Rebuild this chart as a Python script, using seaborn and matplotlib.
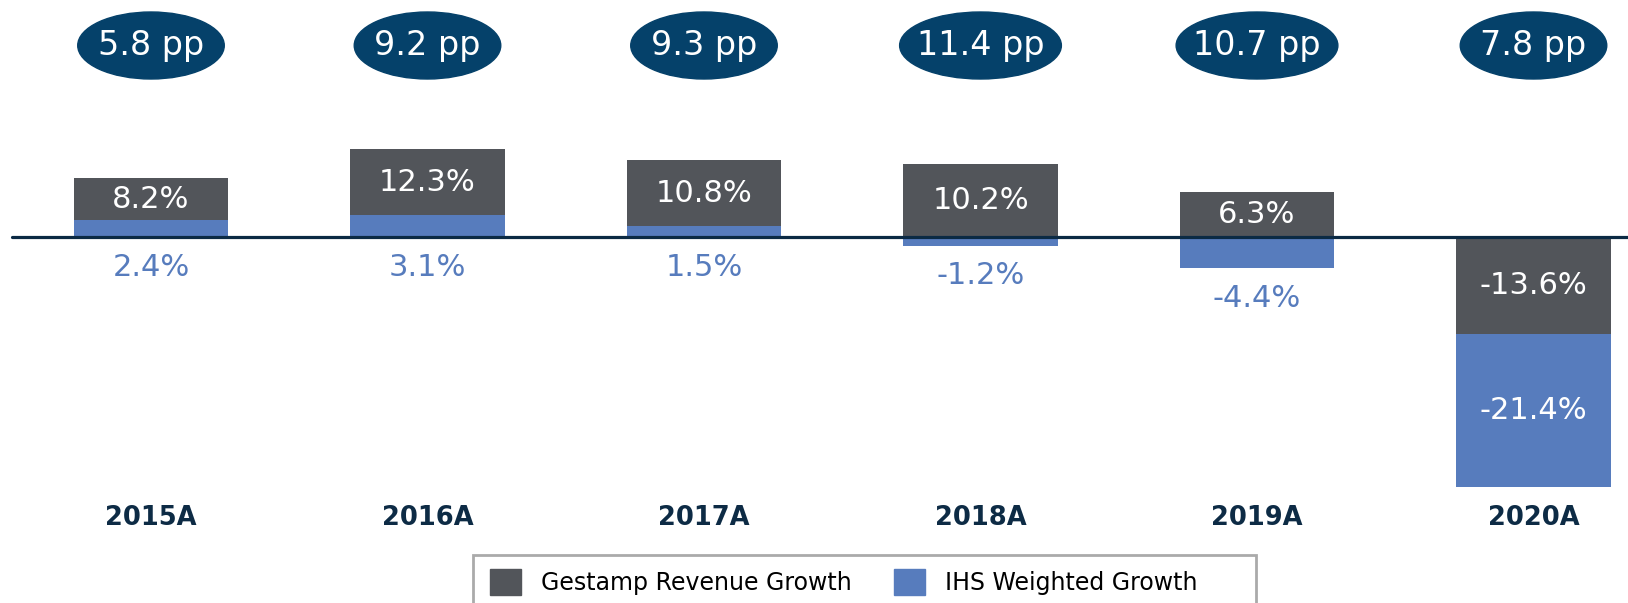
import matplotlib
matplotlib.use("Agg")
import matplotlib.pyplot as plt
from matplotlib.patches import Ellipse, Patch, Rectangle
import seaborn as sns
import pandas as pd

years = ["2015A", "2016A", "2017A", "2018A", "2019A", "2020A"]
gestamp = [8.2, 12.3, 10.8, 10.2, 6.3, -13.6]
ihs = [2.4, 3.1, 1.5, -1.2, -4.4, -21.4]
gap_labels = ["5.8 pp", "9.2 pp", "9.3 pp", "11.4 pp", "10.7 pp", "7.8 pp"]

GREY = "#52555a"
BLUE = "#577cbd"
NAVY = "#05416a"
DARK = "#0d2b45"

# when both are negative the IHS bar hangs below the Gestamp bar
stacked = [g < 0 and i < 0 for g, i in zip(gestamp, ihs)]
ihs_end = [g + i if s else i for g, i, s in zip(gestamp, ihs, stacked)]

df = pd.DataFrame({"year": years, "gestamp": gestamp, "ihs_end": ihs_end})

sns.set_style("white")
plt.rcParams["font.family"] = ["DejaVu Sans"]

W, H = 1628, 603
px = 7.14          # pixels per percentage point
axis_y = 237       # pixel row of the zero line
fig = plt.figure(figsize=(W / 100, H / 100), dpi=100)
ax = fig.add_axes([0, 0, 1, 1])

bw = 0.557
sns.barplot(data=df, x="year", y="gestamp", color=GREY, saturation=1, width=bw,
            errorbar=None, linewidth=0, ax=ax)
n0 = len(ax.patches)
sns.barplot(data=df, x="year", y="ihs_end", color=BLUE, saturation=1, width=bw,
            errorbar=None, linewidth=0, ax=ax)
for p in ax.patches[:n0]:
    p.set_zorder(2)
for p, s in zip(ax.patches[n0:], stacked):
    p.set_zorder(1 if s else 3)

ax.set_xlim(-151 / 276.5, (W - 151) / 276.5)
ax.set_ylim(-(H - axis_y) / px, axis_y / px)
ax.set_axis_off()

ax.axhline(0, xmin=12 / W, xmax=1, color="#0b2a44", lw=2.3, zorder=4)

for k, (g, i, s) in enumerate(zip(gestamp, ihs, stacked)):
    gy = (g + max(i, 0)) / 2 if g > 0 else g / 2
    ax.text(k, gy, f"{g:.1f}%", color="white", fontsize=22, ha="center",
            va="center", zorder=5)
    if s:
        ax.text(k, g + i / 2, f"{i:.1f}%", color="white", fontsize=22,
                ha="center", va="center", zorder=5)
    else:
        ax.text(k, min(i, 0) - 30 / px, f"{i:.1f}%", color=BLUE, fontsize=22,
                ha="center", va="center", zorder=5)

    lab = gap_labels[k]
    ew = 0.53 + 0.055 * (len(lab) - 6)
    ey = (axis_y - 45.5) / px
    ax.add_patch(Ellipse((k, ey), ew, 67 / px, color=NAVY, zorder=5))
    ax.text(k, ey, lab, color="white", fontsize=24, ha="center", va="center",
            zorder=6)

    ax.text(k, (axis_y - 518) / px, years[k], color=DARK, fontsize=18.5,
            fontweight="bold", ha="center", va="center")

handles = [Patch(color=GREY, label="Gestamp Revenue Growth"),
           Patch(color=BLUE, label="IHS Weighted Growth")]
fig.legend(handles=handles, loc="center left",
           bbox_to_anchor=(490 / W, 1 - 582 / H), ncol=2, fontsize=17,
           labelcolor="black", frameon=False, borderaxespad=0, borderpad=0,
           handlelength=1.3, handleheight=1.3, handletextpad=0.85,
           columnspacing=1.8)
# legend frame, open at the bottom edge of the picture
fig.patches.append(Rectangle((473 / W, -0.05), (1256 - 473) / W,
                             0.05 + (H - 555) / H, transform=fig.transFigure,
                             fill=False, edgecolor="#aaaaaa", lw=2))

fig.savefig("out.png", dpi=100)
